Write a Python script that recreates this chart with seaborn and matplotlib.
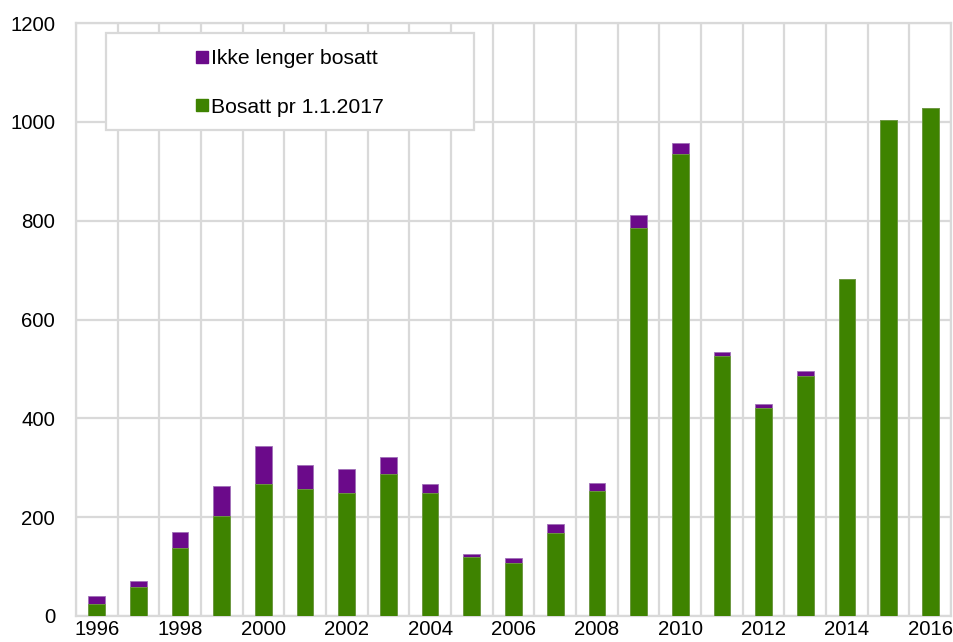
import numpy as np
import pandas as pd
import seaborn as sns
import matplotlib.pyplot as plt
from matplotlib.lines import Line2D
from matplotlib.patches import Rectangle

years = list(range(1996, 2017))
bosatt = [24, 58, 138, 203, 267, 257, 248, 288, 248, 120, 107, 168, 252,
          786, 935, 526, 420, 486, 682, 1004, 1028]
ikke_bosatt = [17, 13, 32, 60, 78, 48, 50, 34, 20, 6, 11, 18, 18,
               25, 23, 9, 10, 9, 0, 0, 0]
tick_years = [str(y) if y % 2 == 0 else '' for y in years]

green = '#3e8300'
purple = '#6b0a8a'
grid_col = '#d9d9d9'

df = pd.DataFrame({'Year': [str(y) for y in years],
                   'Bosatt': bosatt,
                   'Ikke': ikke_bosatt})
df['Total'] = df['Bosatt'] + df['Ikke']

sns.set_style('white')
plt.rcParams['font.family'] = ['Liberation Sans', 'DejaVu Sans']
plt.rcParams['text.color'] = 'black'

fig = plt.figure(figsize=(9.54, 6.42), dpi=100)
ax = fig.add_axes([0.0795, 0.0405, 0.9175, 0.9235])

sns.barplot(data=df, x='Year', y='Total', color=purple, width=0.4,
            saturation=1, edgecolor='#a070b8', linewidth=0.6, ax=ax, zorder=3)
sns.barplot(data=df, x='Year', y='Bosatt', color=green, width=0.4,
            saturation=1, edgecolor='#6fa040', linewidth=0.6, ax=ax, zorder=4)

ax.set_xlim(-0.5, len(years) - 0.5)
ax.set_ylim(0, 1200)
ax.set_yticks(range(0, 1201, 200))
ax.set_xticks(range(len(years)))
ax.set_xticklabels(tick_years)
ax.set_xticks(np.arange(-0.5, len(years), 1), minor=True)
ax.grid(axis='y', which='major', color=grid_col, linewidth=1.6, zorder=0)
ax.grid(axis='x', which='minor', color=grid_col, linewidth=1.6, zorder=0)
ax.grid(axis='x', which='major', visible=False)
ax.set_axisbelow(True)
ax.tick_params(axis='both', which='both', length=0, labelsize=14.7, colors='black')
ax.tick_params(axis='y', pad=15)
ax.tick_params(axis='x', pad=3)
ax.set_xlabel('')
ax.set_ylabel('')
for s in ax.spines.values():
    s.set_color(grid_col)
    s.set_linewidth(1.6)

# legend frame
fig.patches.append(Rectangle((106 / 954, 1 - 130 / 642), 368 / 954, 97 / 642,
                             transform=fig.transFigure, facecolor='white',
                             edgecolor=grid_col, linewidth=1.6, zorder=5))
handles = [Line2D([], [], marker='s', linestyle='', color=purple, markersize=8),
           Line2D([], [], marker='s', linestyle='', color=green, markersize=8)]
fig.legend(handles, ['Ikke lenger bosatt', 'Bosatt pr 1.1.2017'],
           loc='center left', bbox_to_anchor=(185 / 954, 1 - 83 / 642),
           frameon=False, fontsize=15.2, handlelength=0.6, handletextpad=0.15,
           labelspacing=1.4, borderpad=0)

fig.savefig('out.png', dpi=100)
